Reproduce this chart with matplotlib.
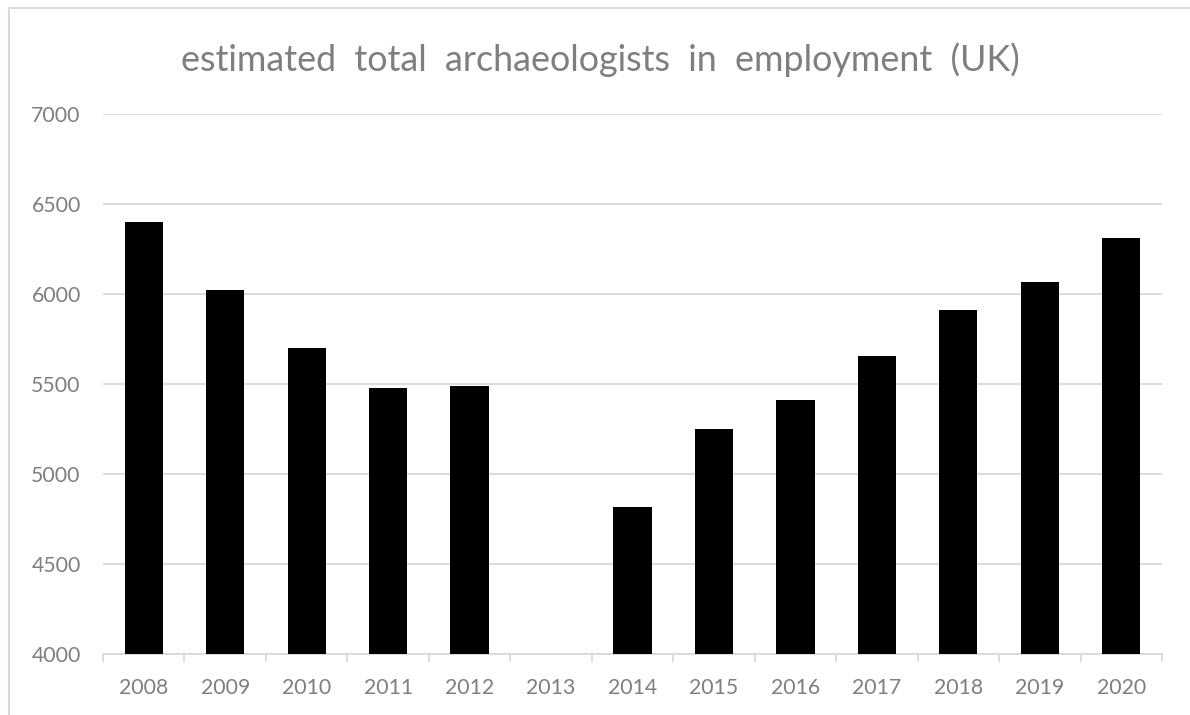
import matplotlib
matplotlib.use("Agg")
from matplotlib import pyplot as plt
from matplotlib.patches import Rectangle

# Values (2013 has no bar)
years = ["2008", "2009", "2010", "2011", "2012", "2013", "2014",
         "2015", "2016", "2017", "2018", "2019", "2020"]
employed = [6400, 6020, 5700, 5480, 5490, None, 4815,
            5250, 5410, 5655, 5910, 6065, 6310]
y_ticks = [4000, 4500, 5000, 5500, 6000, 6500, 7000]
title = "estimated  total  archaeologists  in  employment  (UK)"

grey_text = "#7f7f7f"
grey_line = "#d9d9d9"

plt.rcParams["font.family"] = ["Lato", "DejaVu Sans"]

fig = plt.figure(figsize=(11.9, 7.15), dpi=100)
ax = fig.add_axes([103 / 1190, 1 - 654 / 715, (1162 - 103) / 1190, (654 - 114) / 715])

# chart border, right and bottom edges run off the picture
fig.patches.append(Rectangle((9 / 1190, -0.1), 1.2, 1 - 8 / 715 + 0.1,
                             transform=fig.transFigure, fill=False,
                             edgecolor=grey_line, linewidth=1.5))

x = list(range(len(years)))
heights = [v if v is not None else 0 for v in employed]
ax.bar(x, heights, width=0.47, color="black", zorder=3)

ax.set_xlim(-0.5, len(years) - 0.5)
ax.set_ylim(4000, 7000)
ax.set_yticks(y_ticks)
ax.set_yticklabels([str(t) for t in y_ticks])
ax.set_xticks(x)
ax.set_xticklabels(years)

# tick marks sit between categories
ax.set_xticks([i - 0.5 for i in range(len(years) + 1)], minor=True)
ax.tick_params(axis="x", which="major", length=0, pad=17, labelsize=15.3, labelcolor=grey_text)
ax.tick_params(axis="x", which="minor", length=6, width=1.3, color=grey_line)
ax.tick_params(axis="y", length=0, pad=16, labelsize=15.3, labelcolor=grey_text)

ax.grid(axis="y", color=grey_line, linewidth=1.3, zorder=0)
for side in ["top", "right", "left"]:
    ax.spines[side].set_visible(False)
ax.spines["bottom"].set_color(grey_line)
ax.spines["bottom"].set_linewidth(1.3)

fig.text(0.5 + 5 / 1190, 1 - 60 / 715, title, ha="center", va="center",
         fontsize=25.8, color=grey_text)

fig.savefig("out.png", dpi=100)
